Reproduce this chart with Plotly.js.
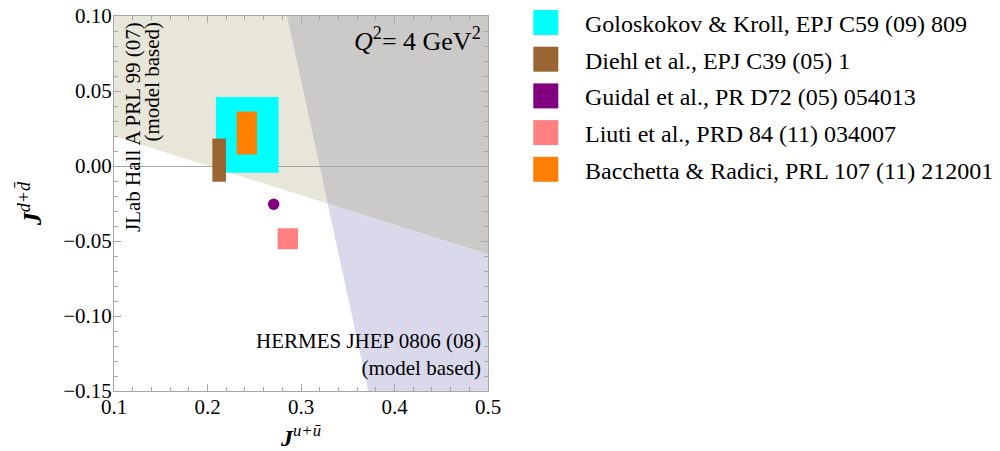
<!DOCTYPE html>
<html><head><meta charset="utf-8">
<script src="https://cdn.plot.ly/plotly-3.0.1.min.js"></script>
<style>html,body{margin:0;padding:0;background:#fff}#chart{width:1000px;height:451px}</style>
</head><body><div id="chart"></div>
<script>
// ---- data ----
const seriesNames = [
  "Goloskokov & Kroll, EPJ C59 (09) 809",
  "Diehl et al., EPJ C39 (05) 1",
  "Guidal et al., PR D72 (05) 054013",
  "Liuti et al., PRD 84 (11) 034007",
  "Bacchetta & Radici, PRL 107 (11) 212001"
];
const seriesColors = ["#00ffff", "#996633", "#800080", "#ff8080", "#ff7f00"];
// rectangles: J^u range, J^d range
const golJu = [0.209, 0.276],   golJd = [-0.0045, 0.046];
const diehlJu = [0.2052, 0.2198], diehlJd = [-0.0105, 0.0183];
const guidalJu = [0.2708],       guidalJd = [-0.0255];
const liutiJu = [0.275, 0.2968], liutiJd = [-0.0555, -0.0415];
const bacJu = [0.2312, 0.2529],  bacJd = [0.0076, 0.0363];
// experimental constraint boundaries
const jlabBoundX = [0.1, 0.5],     jlabBoundY = [0.02, -0.059];
const hermesBoundX = [0.285, 0.372], hermesBoundY = [0.10, -0.15];
const xRange = [0.1, 0.5], yRange = [-0.15, 0.10];
const regionColors = {jlab: "#e8e5d9", overlap: "#ccc9c9", hermes: "#d9d9eb"};

// ---- helpers ----
function rect(xr, yr) {
  return {x: [xr[0], xr[1], xr[1], xr[0], xr[0]], y: [yr[0], yr[0], yr[1], yr[1], yr[0]]};
}
function lineIntersect(ax, ay, bx, by) {
  const x1 = ax[0], y1 = ay[0], x2 = ax[1], y2 = ay[1];
  const x3 = bx[0], y3 = by[0], x4 = bx[1], y4 = by[1];
  const d = (x1 - x2) * (y3 - y4) - (y1 - y2) * (x3 - x4);
  const t = ((x1 - x3) * (y3 - y4) - (y1 - y3) * (x3 - x4)) / d;
  return [x1 + t * (x2 - x1), y1 + t * (y2 - y1)];
}
function pathOf(pts) {
  return "M" + pts.map(p => p[0] + "," + p[1]).join("L") + "Z";
}
const P = lineIntersect(jlabBoundX, jlabBoundY, hermesBoundX, hermesBoundY);
const jlabPoly = [[xRange[0], yRange[1]], [hermesBoundX[0], hermesBoundY[0]], P, [jlabBoundX[0], jlabBoundY[0]]];
const overlapPoly = [[hermesBoundX[0], hermesBoundY[0]], [xRange[1], yRange[1]], [jlabBoundX[1], jlabBoundY[1]], P];
const hermesPoly = [P, [jlabBoundX[1], jlabBoundY[1]], [xRange[1], yRange[0]], [hermesBoundX[1], hermesBoundY[1]]];

const serif = "Liberation Serif, Times New Roman, serif";

// ---- traces ----
const boxes = [golJu, diehlJu, null, liutiJu, bacJu];
const boxesY = [golJd, diehlJd, null, liutiJd, bacJd];
const order = [0, 1, 4, 2, 3];
const traces = [];
order.forEach(i => {
  if (i === 2) {
    traces.push({type: "scatter", mode: "markers", x: guidalJu, y: guidalJd, name: seriesNames[i],
      marker: {color: seriesColors[i], size: 11.5, line: {width: 0}}, showlegend: false, hoverinfo: "skip"});
  } else {
    const r = rect(boxes[i], boxesY[i]);
    traces.push({type: "scatter", mode: "none", fill: "toself", x: r.x, y: r.y, name: seriesNames[i],
      fillcolor: seriesColors[i], showlegend: false, hoverinfo: "skip"});
  }
});

// ---- layout ----
const L = 114, R = 488, T = 16, B = 391;
const px = v => (v - L) / (R - L);
const py = v => (B - v) / (B - T);

const shapes = [
  {type: "path", xref: "x", yref: "y", layer: "below", path: pathOf(jlabPoly), fillcolor: regionColors.jlab, line: {width: 0}},
  {type: "path", xref: "x", yref: "y", layer: "below", path: pathOf(overlapPoly), fillcolor: regionColors.overlap, line: {width: 0}},
  {type: "path", xref: "x", yref: "y", layer: "below", path: pathOf(hermesPoly), fillcolor: regionColors.hermes, line: {width: 0}}
];
const annotations = [
  {xref: "paper", yref: "paper", x: px(483), y: py(40), xanchor: "right", yanchor: "middle", showarrow: false,
   text: "<i>Q</i><sup>2</sup>= 4 GeV<sup>2</sup>", font: {family: serif, size: 26, color: "#000"}},
  {xref: "paper", yref: "paper", x: px(483), y: py(354.5), xanchor: "right", yanchor: "middle", showarrow: false,
   align: "right", text: "HERMES JHEP 0806 (08)<br>(model based)", font: {family: serif, size: 21, color: "#000"}},
  {xref: "paper", yref: "paper", x: px(133), y: py(20), xanchor: "center", yanchor: "top", textangle: -90, showarrow: false,
   text: "JLab Hall A PRL 99 (07)", font: {family: serif, size: 21, color: "#000"}},
  {xref: "paper", yref: "paper", x: px(151.5), y: py(20), xanchor: "center", yanchor: "top", textangle: -90, showarrow: false,
   text: "(model based)", font: {family: serif, size: 21, color: "#000"}}
];
// legend (drawn manually to get large square swatches)
const legX0 = 533.3, legSize = 25, legY0 = 10, legStep = 36.7, legTextX = 583;
seriesNames.forEach((n, i) => {
  const y0 = legY0 + i * legStep;
  shapes.push({type: "rect", xref: "paper", yref: "paper", x0: px(legX0), x1: px(legX0 + legSize),
    y0: py(y0 + legSize), y1: py(y0), fillcolor: seriesColors[i], line: {width: 0}, layer: "above"});
  annotations.push({xref: "paper", yref: "paper", x: px(legTextX), y: py(y0 + legSize / 2 + 1.5),
    xanchor: "left", yanchor: "middle", showarrow: false, text: n, font: {family: serif, size: 24, color: "#000"}});
});

const axisCommon = {
  showgrid: false, ticks: "inside", ticklen: 7, tickwidth: 1, tickcolor: "#a6a6a6",
  showline: true, linecolor: "#a6a6a6", linewidth: 1, mirror: "allticks",
  tickfont: {family: serif, size: 21, color: "#000"}
};
const layout = {
  width: 1000, height: 451,
  margin: {l: L, r: 1000 - R, t: T, b: 451 - B},
  paper_bgcolor: "#fff", plot_bgcolor: "#fff",
  showlegend: false,
  xaxis: Object.assign({}, axisCommon, {
    range: xRange, tick0: 0.1, dtick: 0.1, tickformat: ".1f", zeroline: false, ticklabelstandoff: -3,
    minor: {dtick: 0.02, ticks: "inside", ticklen: 4, tickcolor: "#a6a6a6", showgrid: false},
    title: {text: "<b><i>J</i></b><sup><i>u+ū</i></sup>", font: {family: serif, size: 24, color: "#000"}, standoff: 12}
  }),
  yaxis: Object.assign({}, axisCommon, {
    range: yRange, tick0: 0, dtick: 0.05, tickformat: ".2f", ticklabelstandoff: -3,
    zeroline: true, zerolinecolor: "#a6a6a6", zerolinewidth: 1,
    minor: {dtick: 0.01, ticks: "inside", ticklen: 4, tickcolor: "#a6a6a6", showgrid: false},
    title: {text: "<b><i>J</i></b><sup><i>d+d\u0304</i></sup>", font: {family: serif, size: 26, color: "#000"}, standoff: 14}
  }),
  shapes: shapes,
  annotations: annotations
};
Plotly.newPlot("chart", traces, layout, {staticPlot: true, displayModeBar: false});
</script></body></html>
